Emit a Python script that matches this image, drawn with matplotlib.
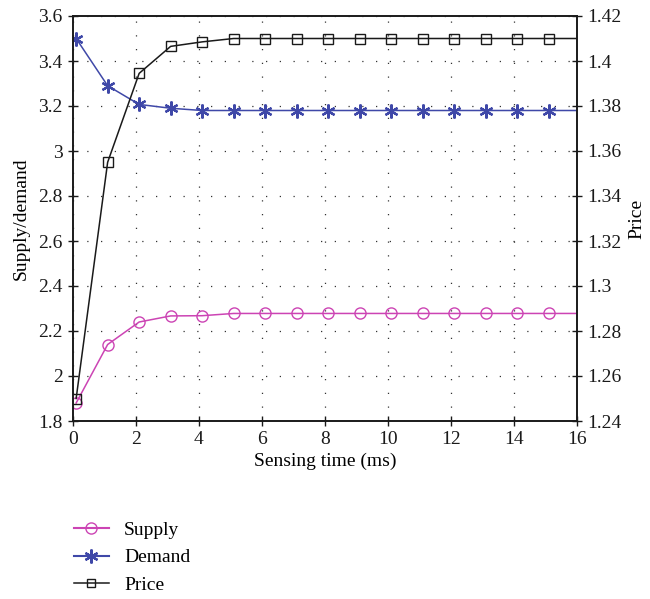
import matplotlib.pyplot as plt
from matplotlib.lines import Line2D

plt.rcParams["font.family"] = ["Liberation Serif", "DejaVu Serif"]

# Data
time_ms = [0.1, 1.1, 2.1, 3.1, 4.1, 5.1, 6.1, 7.1, 8.1, 9.1, 10.1, 11.1, 12.1, 13.1, 14.1, 15.1, 16.1]
supply = [1.88, 2.14, 2.24, 2.267, 2.268, 2.278, 2.278, 2.278, 2.278, 2.278, 2.278, 2.278, 2.278, 2.278, 2.278, 2.278, 2.278]
demand = [3.50, 3.29, 3.207, 3.19, 3.18, 3.18, 3.18, 3.18, 3.18, 3.18, 3.18, 3.18, 3.18, 3.18, 3.18, 3.18, 3.18]
price = [1.25, 1.355, 1.3945, 1.4065, 1.4085, 1.41, 1.41, 1.41, 1.41, 1.41, 1.41, 1.41, 1.41, 1.41, 1.41, 1.41, 1.41]

c_supply = "#cc44b4"
c_demand = "#3f48a8"
c_price = "#1a1a1a"

shown = list(range(len(time_ms) - 1))  # last point sits beyond x=16

fig = plt.figure(figsize=(6.5, 5.99), dpi=100)
ax = fig.add_axes([73 / 650, 1 - 421 / 599, 504 / 650, 405 / 599])
ax2 = ax.twinx()

ax.plot(time_ms, supply, color=c_supply, lw=1.1, marker="o", ms=8,
        mfc="none", mec=c_supply, mew=1.0, markevery=shown)
ax.plot(time_ms, demand, color=c_demand, lw=1.1, marker=(6, 2, 0), ms=10,
        mec=c_demand, mew=1.6, markevery=shown)
ax2.plot(time_ms, price, color=c_price, lw=1.1, marker="s", ms=6.5,
         mfc="none", mec=c_price, mew=1.0, markevery=shown)

ax.set_xlim(0, 16)
ax.set_ylim(1.8, 3.6)
ax2.set_ylim(1.24, 1.42)
ax.set_xticks(range(0, 17, 2))
ax.set_yticks([1.8, 2.0, 2.2, 2.4, 2.6, 2.8, 3.0, 3.2, 3.4, 3.6])
ax.set_yticklabels(["1.8", "2", "2.2", "2.4", "2.6", "2.8", "3", "3.2", "3.4", "3.6"])
ax2.set_yticks([1.24, 1.26, 1.28, 1.30, 1.32, 1.34, 1.36, 1.38, 1.40, 1.42])
ax2.set_yticklabels(["1.24", "1.26", "1.28", "1.3", "1.32", "1.34", "1.36", "1.38", "1.4", "1.42"])

ax.grid(True, color="#333333", linestyle=(0, (1, 10)), linewidth=0.9)
for a in (ax, ax2):
    a.tick_params(direction="inout", length=7, width=1.0, labelsize=14,
                  colors="#1a1a1a", pad=4)
    for s in a.spines.values():
        s.set_linewidth(1.2)
        s.set_color("#1a1a1a")

ax.set_xlabel("Sensing time (ms)", fontsize=14, labelpad=3)
ax.set_ylabel("Supply/demand", fontsize=14, labelpad=6)
ax2.set_ylabel("Price", fontsize=14, labelpad=5)

handles = [
    Line2D([], [], color=c_supply, lw=1.5, marker="o", ms=8, mfc="none", mec=c_supply),
    Line2D([], [], color=c_demand, lw=1.5, marker=(6, 2, 0), ms=10, mec=c_demand, mew=1.6),
    Line2D([], [], color=c_price, lw=1.1, marker="s", ms=6, mfc="none", mec=c_price),
]
fig.legend(handles, ["Supply", "Demand", "Price"], loc="upper left",
           bbox_to_anchor=(56 / 650, 1 - 504 / 599), frameon=False, fontsize=14,
           handlelength=1.8, labelspacing=0.5, handletextpad=0.8)

fig.savefig("out.png", dpi=100)
